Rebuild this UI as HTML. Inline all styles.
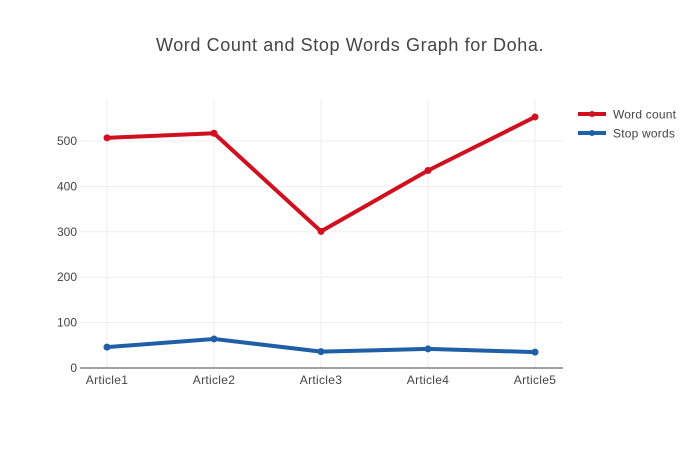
<!DOCTYPE html>
<html><head><meta charset="utf-8"><style>
body{margin:0;background:#fff;font-family:"Liberation Sans",sans-serif}
svg text{font-family:"Liberation Sans",sans-serif}
</style></head><body>
<svg id="chart" width="700" height="450">
<text x="350" y="51" text-anchor="middle" font-size="18" letter-spacing="0.6" fill="#444">Word Count and Stop Words Graph for Doha.</text>
<g id="grid"></g><g id="axes"></g><g id="series"></g>
<g>
<g><line x1="578" y1="114" x2="606" y2="114" stroke="#d0101e" stroke-width="4"/><circle cx="592" cy="114" r="3" fill="#d0101e"/><text x="613" y="118.5" font-size="12" letter-spacing="0.2" fill="#444">Word count</text></g>
<g><line x1="578" y1="133" x2="606" y2="133" stroke="#1f5fa8" stroke-width="4"/><circle cx="592" cy="133" r="3" fill="#1f5fa8"/><text x="613" y="137.5" font-size="12" letter-spacing="0.2" fill="#444">Stop words</text></g>
</g>
</svg>
<script>
const categories=["Article1","Article2","Article3","Article4","Article5"];
const wordCount=[507,517,301,435,553];
const stopWords=[46,64,36,42,35];
const yTicks=[0,100,200,300,400,500];
const NS="http://www.w3.org/2000/svg";
const x0=80,x1=563,yTop=100,yBot=368;
function xs(i){return 107+i*(535-107)/(categories.length-1);}
function ys(v){return yBot-v*0.454;}
function mk(tag,attrs,parent){const e=document.createElementNS(NS,tag);for(const k in attrs)e.setAttribute(k,attrs[k]);parent.appendChild(e);return e;}
const grid=document.getElementById('grid'),axes=document.getElementById('axes'),ser=document.getElementById('series');
yTicks.forEach(t=>{
 if(t>0){const l=mk('line',{x1:x0,x2:x1,y1:ys(t),y2:ys(t),stroke:'#eee','stroke-width':1},grid);
 
 }
 const tx=mk('text',{x:x0-3,y:ys(t)+4,'text-anchor':'end','font-size':12,fill:'#444'},axes);tx.textContent=t;
 
 
});
categories.forEach((c,i)=>{
 const l=mk('line',{x1:xs(i),x2:xs(i),y1:yTop,y2:yBot,stroke:'#eee','stroke-width':1},grid);
 
 
 const tx=mk('text',{x:xs(i),y:yBot+16,'text-anchor':'middle','font-size':12,'letter-spacing':0.3,fill:'#444'},axes);tx.textContent=c;
 
 
});
const ax=mk('line',{x1:x0,x2:x1,y1:yBot,y2:yBot,stroke:'#444','stroke-width':1},axes);


function draw(vals,color,name){
 const p=mk('polyline',{points:vals.map((v,i)=>xs(i)+','+ys(v)).join(' '),fill:'none',stroke:color,'stroke-width':4,'stroke-linejoin':'round'},ser);
 
 
 vals.forEach((v,i)=>{const c=mk('circle',{cx:xs(i),cy:ys(v),r:3.5,fill:color},ser);
 
 });
}
draw(wordCount,'#d0101e','word-count');
draw(stopWords,'#1f5fa8','stop-words');
</script>
</body></html>
